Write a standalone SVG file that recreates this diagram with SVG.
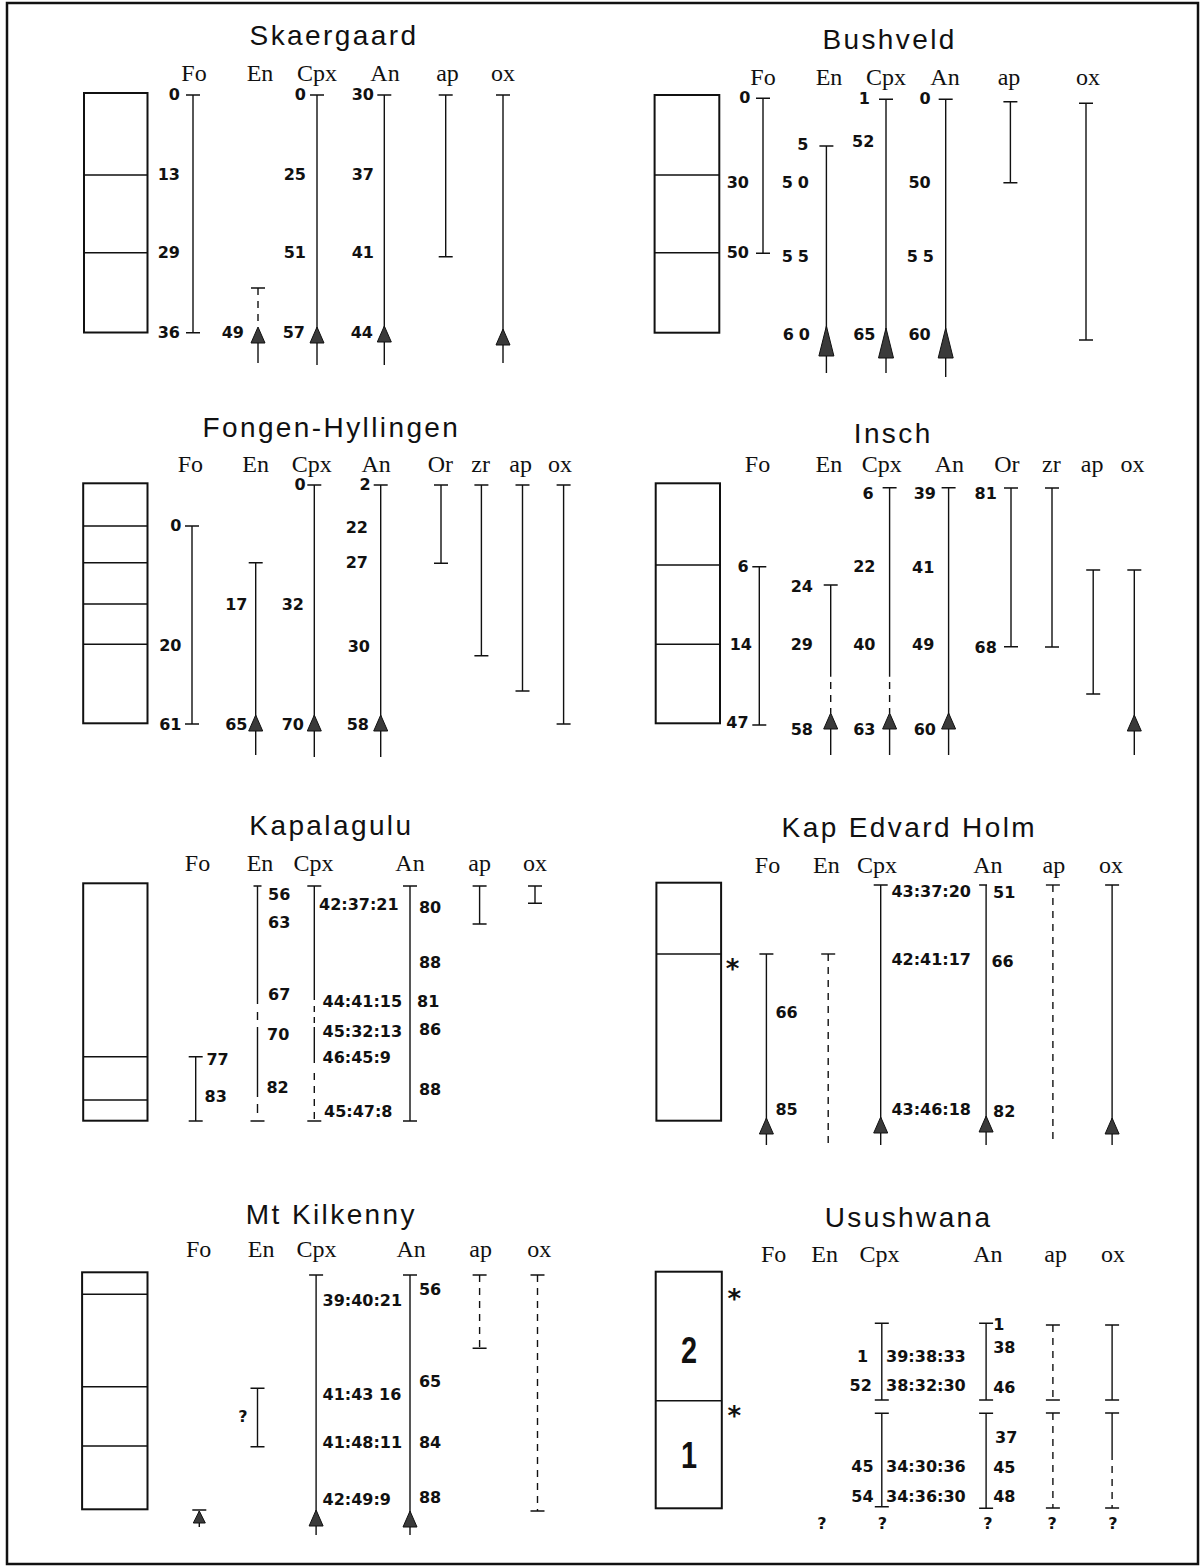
<svg xmlns="http://www.w3.org/2000/svg" width="1202" height="1567" viewBox="0 0 1202 1567">
<style>
.t{font-family:"Liberation Sans",Arial,sans-serif;font-size:28px;letter-spacing:2.4px;text-anchor:middle;fill:#111}
.h{font-family:"Liberation Serif","Times New Roman",serif;font-size:24px;text-anchor:middle;fill:#111}
.n{font-family:"DejaVu Sans",Verdana,sans-serif;font-weight:bold;font-size:16px;fill:#111}
.e{text-anchor:end}
.m{text-anchor:middle}
.sp{letter-spacing:5px}
.big{font-family:"Liberation Sans",Arial,sans-serif;font-weight:bold;font-size:37px;text-anchor:middle;fill:#111}
.ast{font-family:"DejaVu Sans",sans-serif;font-weight:bold;font-size:26px;text-anchor:middle;fill:#111}
.ln{stroke:#111;stroke-width:1.4;fill:none}
.d{stroke-dasharray:7 6}
.box{fill:none;stroke:#111;stroke-width:2}
.arr{fill:#3a3a3a;stroke:#111;stroke-width:1}
</style>
<defs>
<path id="ar" d="M0,0 L7,16 L-7,16 Z"/>
<path id="art" d="M0,0 L7.5,30 L-7.5,30 Z"/>
<path id="ars" d="M0,0 L6,12 L-6,12 Z"/>
</defs>
<rect width="1202" height="1567" fill="#fff"/>
<rect x="7" y="3" width="1191" height="1561" fill="none" stroke="#111" stroke-width="2.5"/>

<g id="skaergaard">
<text class="t" x="334" y="45">Skaergaard</text>
<g class="h"><text x="194" y="81">Fo</text><text x="260" y="81">En</text><text x="317" y="81">Cpx</text><text x="385" y="81">An</text><text x="447.5" y="81">ap</text><text x="503" y="81">ox</text></g>
<rect class="box" x="84" y="93" width="63.5" height="239.5"/>
<path class="ln" d="M84,175 H147.5 M84,252.7 H147.5"/>
<g id="sk-bars">
<path class="ln" d="M193,95 V332.7 M186,95 H200 M186,332.7 H200"/>
<path class="ln d" d="M258,288 V327"/><path class="ln" d="M251,288 H265 M258,330 V363"/><use href="#ar" class="arr" x="258" y="327"/>
<path class="ln" d="M317,95 V365 M310,95 H324"/><use href="#ar" class="arr" x="317" y="327"/>
<path class="ln" d="M384.3,95 V365 M377.3,95 H391.3"/><use href="#ar" class="arr" x="384.3" y="326"/>
<path class="ln" d="M445.7,95 V256.7 M438.7,95 H452.7 M438.7,256.7 H452.7"/>
<path class="ln" d="M503,95 V363 M496,95 H510"/><use href="#ar" class="arr" x="503" y="329"/>
</g>
<g class="n e">
<text x="180" y="100">0</text><text x="180" y="180">13</text><text x="180" y="258">29</text><text x="180" y="338">36</text>
<text x="244" y="338">49</text>
<text x="306" y="100">0</text><text x="306" y="180">25</text><text x="306" y="258">51</text><text x="305" y="338">57</text>
<text x="374" y="100">30</text><text x="374" y="180">37</text><text x="374" y="258">41</text><text x="373" y="338">44</text>
</g>
</g>

<g id="bushveld">
<text class="t" x="889.6" y="49">Bushveld</text>
<g class="h"><text x="763" y="85">Fo</text><text x="829" y="85">En</text><text x="886" y="85">Cpx</text><text x="945" y="85">An</text><text x="1009" y="85">ap</text><text x="1088" y="85">ox</text></g>
<rect class="box" x="654.6" y="95" width="64.7" height="237.7"/>
<path class="ln" d="M654.6,175 H719.3 M654.6,252.7 H719.3"/>
<g id="bu-bars">
<path class="ln" d="M763,98.3 V253.3 M756,98.3 H770 M756,253.3 H770"/>
<path class="ln" d="M826.4,146 V373 M819.4,146 H833.4"/><use href="#art" class="arr" x="826.4" y="326"/>
<path class="ln" d="M886,99.3 V373 M879,99.3 H893"/><use href="#art" class="arr" x="886" y="328"/>
<path class="ln" d="M945.7,99.3 V377 M938.7,99.3 H952.7"/><use href="#art" class="arr" x="945.7" y="328"/>
<path class="ln" d="M1010.4,101.7 V182.7 M1003.4,101.7 H1017.4 M1003.4,182.7 H1017.4"/>
<path class="ln" d="M1086,103.3 V340 M1079,103.3 H1093 M1079,340 H1093"/>
</g>
<g class="n e">
<text x="750.5" y="103">0</text><text x="749" y="188.3">30</text><text x="749" y="258.3">50</text>
<text x="808.5" y="150">5</text><text class="sp" x="814" y="188">50</text><text class="sp" x="814" y="261.7">55</text><text class="sp" x="815" y="340">60</text>
<text x="870" y="103.5">1</text><text x="874.3" y="146.7">52</text><text x="875.4" y="340">65</text>
<text x="930.7" y="103.5">0</text><text x="930.7" y="188">50</text><text class="sp" x="939" y="262">55</text><text x="930.7" y="340">60</text>
</g>
</g>

<g id="fongen-hyllingen">
<text class="t" x="331.4" y="437.3">Fongen-Hyllingen</text>
<g class="h"><text x="190.4" y="471.7">Fo</text><text x="255.7" y="471.7">En</text><text x="311.8" y="471.7">Cpx</text><text x="376.1" y="471.7">An</text><text x="440.4" y="471.7">Or</text><text x="480.7" y="471.7">zr</text><text x="520.7" y="471.7">ap</text><text x="560" y="471.7">ox</text></g>
<rect class="box" x="83.2" y="483.3" width="64.3" height="240"/>
<path class="ln" d="M83.2,526 H147.5 M83.2,562.7 H147.5 M83.2,604 H147.5 M83.2,644.3 H147.5"/>
<g id="fh-bars">
<path class="ln" d="M192,526 V724 M185,526 H199 M185,724 H199"/>
<path class="ln" d="M255.7,562.7 V755 M248.7,562.7 H262.7"/><use href="#ar" class="arr" x="255.7" y="715"/>
<path class="ln" d="M314.3,485 V757 M307.3,485 H321.3"/><use href="#ar" class="arr" x="314.3" y="715"/>
<path class="ln" d="M380.7,485 V757 M373.7,485 H387.7"/><use href="#ar" class="arr" x="380.7" y="715"/>
<path class="ln" d="M441,485 V563.3 M434,485 H448 M434,563.3 H448"/>
<path class="ln" d="M481.4,485 V655.7 M474.4,485 H488.4 M474.4,655.7 H488.4"/>
<path class="ln" d="M522.5,485 V691 M515.5,485 H529.5 M515.5,691 H529.5"/>
<path class="ln" d="M563.6,485 V724 M556.6,485 H570.6 M556.6,724 H570.6"/>
</g>
<g class="n e">
<text x="181.4" y="531">0</text><text x="181.4" y="650.7">20</text><text x="181.4" y="730">61</text>
<text x="247.5" y="610">17</text><text x="247.5" y="730">65</text>
<text x="305.7" y="490">0</text><text x="304" y="610">32</text><text x="304" y="730">70</text>
<text x="370.7" y="490">2</text><text x="368" y="533.3">22</text><text x="368" y="568.3">27</text><text x="370" y="651.7">30</text><text x="369" y="730">58</text>
</g>
</g>

<g id="insch">
<text class="t" x="893.2" y="443.3">Insch</text>
<g class="h"><text x="757.5" y="471.7">Fo</text><text x="828.9" y="471.7">En</text><text x="881.8" y="471.7">Cpx</text><text x="949.3" y="471.7">An</text><text x="1006.8" y="471.7">Or</text><text x="1051.4" y="471.7">zr</text><text x="1092.1" y="471.7">ap</text><text x="1132.5" y="471.7">ox</text></g>
<rect class="box" x="655.7" y="483.3" width="64.3" height="240"/>
<path class="ln" d="M655.7,565 H720 M655.7,644.3 H720"/>
<g id="in-bars">
<path class="ln" d="M759.3,566.7 V725 M752.3,566.7 H766.3 M752.3,725 H766.3"/>
<path class="ln" d="M830.7,585 V676.7 M823.7,585 H837.7 M830.7,727 V755"/><path class="ln d" d="M830.7,682 V713"/><use href="#ar" class="arr" x="830.7" y="713"/>
<path class="ln" d="M889.6,487.7 V676.7 M882.6,487.7 H896.6 M889.6,727 V755"/><path class="ln d" d="M889.6,682 V713"/><use href="#ar" class="arr" x="889.6" y="713"/>
<path class="ln" d="M948.6,487.7 V755 M941.6,487.7 H955.6"/><use href="#ar" class="arr" x="948.6" y="713"/>
<path class="ln" d="M1011,488 V646.7 M1004,488 H1018 M1004,646.7 H1018"/>
<path class="ln" d="M1052,488 V647 M1045,488 H1059 M1045,647 H1059"/>
<path class="ln" d="M1093.2,570 V694 M1086.2,570 H1100.2 M1086.2,694 H1100.2"/>
<path class="ln" d="M1134.3,570 V755 M1127.3,570 H1141.3"/><use href="#ar" class="arr" x="1134.3" y="715"/>
</g>
<g class="n e">
<text x="748.6" y="571.7">6</text><text x="752" y="650">14</text><text x="748.6" y="728.3">47</text>
<text x="812.9" y="591.7">24</text><text x="812.9" y="650">29</text><text x="812.9" y="735">58</text>
<text x="873.6" y="499">6</text><text x="875.4" y="571.7">22</text><text x="875.4" y="650">40</text><text x="875.4" y="735">63</text>
<text x="936" y="499">39</text><text x="934.3" y="573.3">41</text><text x="934.3" y="650">49</text><text x="936" y="735">60</text>
<text x="996.8" y="499">81</text><text x="996.8" y="653">68</text>
</g>
</g>

<g id="kapalagulu">
<text class="t" x="331.4" y="835">Kapalagulu</text>
<g class="h"><text x="197.5" y="870.7">Fo</text><text x="260" y="870.7">En</text><text x="313.6" y="870.7">Cpx</text><text x="410" y="870.7">An</text><text x="479.6" y="870.7">ap</text><text x="535" y="870.7">ox</text></g>
<rect class="box" x="83.2" y="883.3" width="64.3" height="237.4"/>
<path class="ln" d="M83.2,1056.7 H147.5 M83.2,1100 H147.5"/>
<g id="ka-bars">
<path class="ln" d="M195.7,1056.7 V1121 M188.7,1056.7 H202.7 M188.7,1121 H202.7"/>
<path class="ln" d="M257.5,886 V1004 M257.5,1012 V1020 M257.5,1027 V1097 M257.5,1104 V1113 M253.5,886 H261.5 M250.5,1121 H264.5"/>
<path class="ln" d="M314.3,886 V1000 M314.3,1006 V1012 M314.3,1017 V1023 M314.3,1027 V1063 M307.3,886 H321.3 M307.3,1121 H321.3"/><path class="ln d" d="M314.3,1073 V1121"/>
<path class="ln" d="M410,886 V1121 M403,886 H417 M403,1121 H417"/>
<path class="ln" d="M479.6,886 V924 M472.6,886 H486.6 M472.6,924 H486.6"/>
<path class="ln" d="M535,886 V903.3 M528,886 H542 M528,903.3 H542"/>
</g>
<g class="n">
<text x="206.4" y="1065">77</text><text x="204.6" y="1101.7">83</text>
<text x="268" y="900">56</text><text x="268" y="928.3">63</text><text x="268" y="1000">67</text><text x="267" y="1040">70</text><text x="266.4" y="1093.3">82</text>
<text x="319" y="910">42:37:21</text><text x="322.5" y="1006.7">44:41:15</text><text x="322.5" y="1036.7">45:32:13</text><text x="322.5" y="1063.3">46:45:9</text><text x="324" y="1116.7">45:47:8</text>
<text x="418.9" y="912.7">80</text><text x="418.9" y="968.3">88</text><text x="417" y="1006.7">81</text><text x="418.9" y="1035">86</text><text x="418.9" y="1095">88</text>
</g>
</g>

<g id="kap-edvard-holm">
<text class="t" x="909.3" y="837.3">Kap Edvard Holm</text>
<g class="h"><text x="767.5" y="873.3">Fo</text><text x="826.4" y="873.3">En</text><text x="877.1" y="873.3">Cpx</text><text x="987.9" y="873.3">An</text><text x="1053.9" y="873.3">ap</text><text x="1111.1" y="873.3">ox</text></g>
<rect class="box" x="656.4" y="882.7" width="64.7" height="238"/>
<path class="ln" d="M656.4,954 H721.1"/>
<text class="ast" x="732.5" y="978">*</text>
<g id="ke-bars">
<path class="ln" d="M766.4,954 V1145 M759.4,954 H773.4"/><use href="#ar" class="arr" x="766.4" y="1118"/>
<path class="ln d" d="M828.2,954 V1145"/><path class="ln" d="M821.2,954 H835.2"/>
<path class="ln" d="M880.7,885 V1145 M873.7,885 H887.7"/><use href="#ar" class="arr" x="880.7" y="1117"/>
<path class="ln" d="M986.1,885 V1145 M979.1,885 H987"/><use href="#ar" class="arr" x="986.1" y="1116"/>
<path class="ln d" d="M1052.9,885 V1145"/><path class="ln" d="M1045.9,885 H1059.9"/>
<path class="ln" d="M1112.1,885 V1145 M1105.1,885 H1119.1"/><use href="#ar" class="arr" x="1112.1" y="1118"/>
</g>
<g class="n">
<text x="775.4" y="1018.3">66</text><text x="775.4" y="1115">85</text>
<text x="891.4" y="896.7">43:37:20</text><text x="891.4" y="965">42:41:17</text><text x="891.4" y="1115">43:46:18</text>
<text x="993" y="898.3">51</text><text x="991.4" y="966.7">66</text><text x="993" y="1116.7">82</text>
</g>
</g>

<g id="mt-kilkenny">
<text class="t" x="331.4" y="1224">Mt Kilkenny</text>
<g class="h"><text x="198.6" y="1256.7">Fo</text><text x="261.1" y="1256.7">En</text><text x="316.4" y="1256.7">Cpx</text><text x="411.1" y="1256.7">An</text><text x="480.7" y="1256.7">ap</text><text x="539.3" y="1256.7">ox</text></g>
<rect class="box" x="82.1" y="1272.3" width="65.4" height="237"/>
<path class="ln" d="M82.1,1294.3 H147.5 M82.1,1386.7 H147.5 M82.1,1446 H147.5"/>
<g id="mk-bars">
<path class="ln" d="M192.3,1510 H206.3 M199.3,1511 V1527"/><use href="#ars" class="arr" x="199.3" y="1511"/>
<path class="ln" d="M257.5,1388.3 V1446.7 M250.5,1388.3 H264.5 M250.5,1446.7 H264.5"/>
<path class="ln" d="M316.1,1275 V1535 M309.1,1275 H323.1"/><use href="#ar" class="arr" x="316.1" y="1510"/>
<path class="ln" d="M410,1275 V1535 M403,1275 H417"/><use href="#ar" class="arr" x="410" y="1511"/>
<path class="ln d" d="M479.6,1275 V1348.3"/><path class="ln" d="M472.6,1275 H486.6 M472.6,1348.3 H486.6"/>
<path class="ln d" d="M537.5,1275 V1511"/><path class="ln" d="M530.5,1275 H544.5 M530.5,1511 H544.5"/>
</g>
<g class="n">
<text class="m" x="243" y="1422">?</text>
<text x="322.5" y="1306">39:40:21</text><text x="322.5" y="1400">41:43 16</text><text x="322.5" y="1448.3">41:48:11</text><text x="322.5" y="1505">42:49:9</text>
<text x="418.9" y="1295">56</text><text x="418.9" y="1386.7">65</text><text x="418.9" y="1448.3">84</text><text x="418.9" y="1502.7">88</text>
</g>
</g>

<g id="usushwana">
<text class="t" x="908.6" y="1226.7">Usushwana</text>
<g class="h"><text x="773.6" y="1261.7">Fo</text><text x="824.6" y="1261.7">En</text><text x="879.6" y="1261.7">Cpx</text><text x="987.9" y="1261.7">An</text><text x="1055.7" y="1261.7">ap</text><text x="1112.9" y="1261.7">ox</text></g>
<rect class="box" x="655.7" y="1271.7" width="66.1" height="236.6"/>
<path class="ln" d="M655.7,1400.7 H721.8"/>
<text class="big" transform="translate(688.9,1363.3) scale(0.78,1)">2</text>
<text class="big" transform="translate(688.9,1468.3) scale(0.78,1)">1</text>
<text class="ast" x="734.3" y="1308">*</text>
<text class="ast" x="734.3" y="1425">*</text>
<g id="us-bars">
<path class="ln" d="M881.8,1323.3 V1400 M874.8,1323.3 H888.8 M874.8,1400 H888.8"/>
<path class="ln" d="M881.8,1413.3 V1506.7 M874.8,1413.3 H888.8 M874.8,1506.7 H888.8"/>
<path class="ln" d="M986.1,1323.3 V1400 M979.1,1323.3 H993.1 M979.1,1400 H993.1"/>
<path class="ln" d="M986.1,1413.3 V1508.3 M979.1,1413.3 H993.1 M979.1,1508.3 H993.1"/>
<path class="ln d" d="M1052.9,1325 V1400"/><path class="ln" d="M1045.9,1325 H1059.9 M1045.9,1400 H1059.9"/>
<path class="ln d" d="M1052.9,1413 V1508"/><path class="ln" d="M1045.9,1413 H1059.9 M1045.9,1508 H1059.9"/>
<path class="ln" d="M1112.1,1325 V1400 M1105.1,1325 H1119.1 M1105.1,1400 H1119.1"/>
<path class="ln" d="M1112.1,1413 V1460"/><path class="ln d" d="M1112.1,1466 V1508"/><path class="ln" d="M1105.1,1413 H1119.1 M1105.1,1508 H1119.1"/>
</g>
<g class="n e">
<text x="868.2" y="1361.7">1</text><text x="871.8" y="1390.7">52</text><text x="873.6" y="1471.7">45</text><text x="873.6" y="1501.7">54</text>
</g>
<g class="n">
<text x="886.1" y="1361.7">39:38:33</text><text x="886.1" y="1390.7">38:32:30</text><text x="886.1" y="1471.7">34:30:36</text><text x="886.1" y="1501.7">34:36:30</text>
<text x="993.2" y="1330">1</text><text x="993.2" y="1352.7">38</text><text x="993.2" y="1393.3">46</text>
<text x="995" y="1443.3">37</text><text x="993.2" y="1472.7">45</text><text x="993.2" y="1501.7">48</text>
</g>
<g class="n m">
<text x="821.8" y="1529">?</text><text x="882.5" y="1529">?</text><text x="987.9" y="1529">?</text><text x="1052.1" y="1529">?</text><text x="1112.9" y="1529">?</text>
</g>
</g>
</svg>
